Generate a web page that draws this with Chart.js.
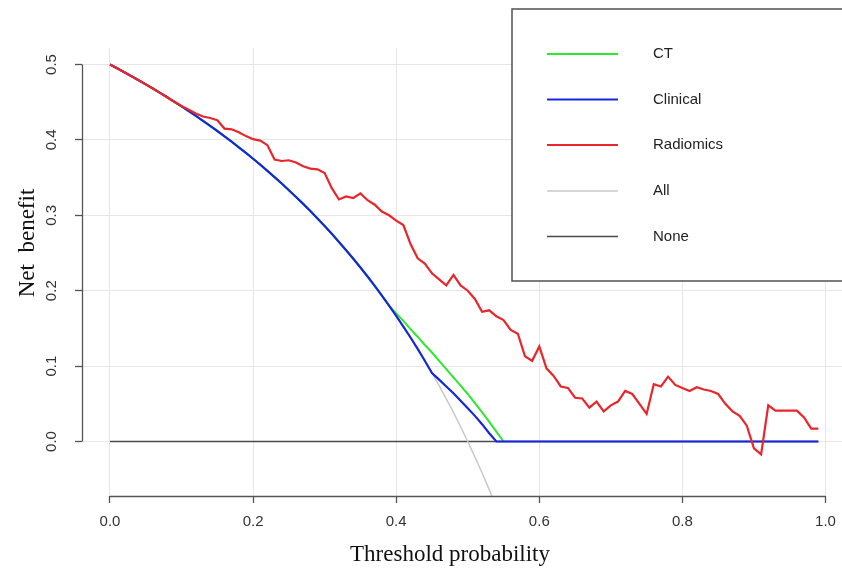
<!DOCTYPE html>
<html>
<head>
<meta charset="utf-8">
<script src="https://cdn.jsdelivr.net/npm/chart.js@4/dist/chart.umd.min.js"></script>
<style>
  html, body { margin: 0; padding: 0; background: #ffffff; }
  #wrap { width: 842px; height: 569px; position: relative; background: #ffffff; }
</style>
</head>
<body>
<div id="wrap"><canvas id="c" width="842" height="569"></canvas></div>
<script>
// ---------------- data ----------------
const thresholds = [
  0.00,0.01,0.02,0.03,0.04,0.05,0.06,0.07,0.08,0.09,
  0.10,0.11,0.12,0.13,0.14,0.15,0.16,0.17,0.18,0.19,
  0.20,0.21,0.22,0.23,0.24,0.25,0.26,0.27,0.28,0.29,
  0.30,0.31,0.32,0.33,0.34,0.35,0.36,0.37,0.38,0.39,
  0.40,0.41,0.42,0.43,0.44,0.45,0.46,0.47,0.48,0.49,
  0.50,0.51,0.52,0.53,0.54,0.55,0.56,0.57,0.58,0.59,
  0.60,0.61,0.62,0.63,0.64,0.65,0.66,0.67,0.68,0.69,
  0.70,0.71,0.72,0.73,0.74,0.75,0.76,0.77,0.78,0.79,
  0.80,0.81,0.82,0.83,0.84,0.85,0.86,0.87,0.88,0.89,
  0.90,0.91,0.92,0.93,0.94,0.95,0.96,0.97,0.98,0.99
];

// CT lies under the Clinical line once both reach 0, so it is only listed up to 0.55
const ctNB = [
  0.5,0.495,0.4898,0.4845,0.4792,0.4737,0.4681,0.4624,0.4565,0.4505,
  0.4444,0.4382,0.4318,0.4253,0.4186,0.4118,0.4048,0.3976,0.3902,0.3827,
  0.375,0.3671,0.359,0.3506,0.3421,0.3333,0.3243,0.3151,0.3056,0.2958,
  0.2857,0.2754,0.2647,0.2537,0.2424,0.2308,0.2188,0.2063,0.1935,0.1803,
  0.170,0.160,0.149,0.139,0.128,0.118,0.107,0.096,0.085,0.074,
  0.063,0.051,0.039,0.026,0.013,0,null,null,null,null,
  null,null,null,null,null,null,null,null,null,null,
  null,null,null,null,null,null,null,null,null,null,
  null,null,null,null,null,null,null,null,null,null,
  null,null,null,null,null,null,null,null,null,null
];

const clinicalNB = [
  0.5,0.495,0.4898,0.4845,0.4792,0.4737,0.4681,0.4624,0.4565,0.4505,
  0.4444,0.4382,0.4318,0.4253,0.4186,0.4118,0.4048,0.3976,0.3902,0.3827,
  0.375,0.3671,0.359,0.3506,0.3421,0.3333,0.3243,0.3151,0.3056,0.2958,
  0.2857,0.2754,0.2647,0.2537,0.2424,0.2308,0.2188,0.2063,0.1935,0.1803,
  0.1667,0.1525,0.1379,0.1228,0.1071,0.0909,0.082,0.073,0.064,0.054,
  0.044,0.034,0.023,0.011,0,0,0,0,0,0,
  0,0,0,0,0,0,0,0,0,0,
  0,0,0,0,0,0,0,0,0,0,
  0,0,0,0,0,0,0,0,0,0,
  0,0,0,0,0,0,0,0,0,0
];

const radiomicsNB = [
  0.5,0.495,0.4898,0.4845,0.4792,0.4737,0.4681,0.4624,0.4565,0.4506,
  0.445,0.440,0.435,0.431,0.429,0.426,0.415,0.414,0.410,0.405,
  0.401,0.399,0.393,0.374,0.372,0.373,0.370,0.365,0.362,0.361,
  0.356,0.336,0.321,0.325,0.323,0.329,0.320,0.314,0.305,0.300,
  0.293,0.287,0.262,0.243,0.236,0.223,0.215,0.207,0.221,0.207,
  0.200,0.189,0.172,0.174,0.166,0.161,0.148,0.143,0.113,0.107,
  0.126,0.097,0.087,0.073,0.071,0.058,0.057,0.045,0.053,0.040,
  0.048,0.053,0.067,0.063,0.050,0.0365,0.076,0.073,0.086,0.075,
  0.071,0.067,0.072,0.069,0.067,0.063,0.050,0.040,0.034,0.021,
  -0.009,-0.017,0.048,0.041,0.041,0.041,0.041,0.032,0.017,0.017
];

const allNB = [
  0.5,0.495,0.4898,0.4845,0.4792,0.4737,0.4681,0.4624,0.4565,0.4505,
  0.4444,0.4382,0.4318,0.4253,0.4186,0.4118,0.4048,0.3976,0.3902,0.3827,
  0.375,0.3671,0.359,0.3506,0.3421,0.3333,0.3243,0.3151,0.3056,0.2958,
  0.2857,0.2754,0.2647,0.2537,0.2424,0.2308,0.2188,0.2063,0.1935,0.1803,
  0.1667,0.1525,0.1379,0.1228,0.1071,0.0909,0.0741,0.0566,0.0385,0.0196,
  0,-0.0204,-0.0417,-0.0638,-0.087,-0.1111,null,null,null,null,
  null,null,null,null,null,null,null,null,null,null,
  null,null,null,null,null,null,null,null,null,null,
  null,null,null,null,null,null,null,null,null,null,
  null,null,null,null,null,null,null,null,null,null
];

const noneNB = [
  0,0,0,0,0,0,0,0,0,0, 0,0,0,0,0,0,0,0,0,0,
  0,0,0,0,0,0,0,0,0,0, 0,0,0,0,0,0,0,0,0,0,
  0,0,0,0,0,0,0,0,0,0, 0,0,0,0,0,0,0,0,0,0,
  0,0,0,0,0,0,0,0,0,0, 0,0,0,0,0,0,0,0,0,0,
  0,0,0,0,0,0,0,0,0,0, 0,0,0,0,0,0,0,0,0,0
];

const seriesNames = ["CT", "Clinical", "Radiomics", "All", "None"];
const xTickValues = [0, 0.2, 0.4, 0.6, 0.8, 1.0];
const xTickLabels = ["0.0", "0.2", "0.4", "0.6", "0.8", "1.0"];
const yTickValues = [0, 0.1, 0.2, 0.3, 0.4, 0.5];
const yTickLabels = ["0.0", "0.1", "0.2", "0.3", "0.4", "0.5"];
const xTitle = "Threshold probability";
const yTitle = "Net  benefit";

// ---------------- styling ----------------
const colors = ["#2ee82e", "#1626dc", "#e8262b", "#c9c9c9", "#4a4a4a"];
const widths = [2, 2.2, 2.2, 1.5, 1.5];
const drawOrder = [3, 2, 1, 4, 5]; // lower = drawn on top
const allSeries = [ctNB, clinicalNB, radiomicsNB, allNB, noneNB];

const datasets = allSeries.map((vals, i) => ({
  label: seriesNames[i],
  data: thresholds.map((t, k) => ({ x: t, y: vals[k] })),
  borderColor: colors[i],
  backgroundColor: colors[i],
  borderWidth: widths[i],
  pointRadius: 0,
  tension: 0,
  fill: false,
  spanGaps: false,
  order: drawOrder[i]
}));

const SANS = "'Liberation Sans', Arial, sans-serif";
const SERIF = "'Liberation Serif', 'Times New Roman', serif";

const rPlot = {
  id: 'rPlot',
  beforeDatasetsDraw(chart) {
    // legend box (white fill covers the grid)
    const ctx = chart.ctx;
    ctx.save();
    ctx.fillStyle = '#ffffff';
    ctx.fillRect(512, 9, 340, 272);
    ctx.strokeStyle = '#505050';
    ctx.lineWidth = 1.5;
    ctx.strokeRect(512, 9, 340, 272);
    const rows = [54, 99.5, 145, 191, 236.5];
    chart.data.datasets.forEach((ds, i) => {
      const y = rows[i];
      ctx.strokeStyle = ds.borderColor;
      ctx.lineWidth = ds.borderWidth;
      ctx.beginPath();
      ctx.moveTo(547, y);
      ctx.lineTo(618, y);
      ctx.stroke();
      ctx.fillStyle = '#222222';
      ctx.font = '15px ' + SANS;
      ctx.textAlign = 'left';
      ctx.textBaseline = 'middle';
      ctx.fillText(ds.label, 653, y);
    });
    ctx.restore();
  },
  afterDraw(chart) {
    const ctx = chart.ctx;
    const xs = chart.scales.x, ys = chart.scales.y;
    const area = chart.chartArea;
    ctx.save();
    ctx.strokeStyle = '#555555';
    ctx.lineWidth = 1.3;
    // y axis line
    const ax = Math.round(area.left) + 0.5;
    ctx.beginPath();
    ctx.moveTo(ax, ys.getPixelForValue(yTickValues[0]));
    ctx.lineTo(ax, ys.getPixelForValue(yTickValues[yTickValues.length - 1]));
    ctx.stroke();
    // x axis line
    const ay = Math.round(area.bottom) + 0.5;
    ctx.beginPath();
    ctx.moveTo(xs.getPixelForValue(xTickValues[0]), ay);
    ctx.lineTo(xs.getPixelForValue(xTickValues[xTickValues.length - 1]), ay);
    ctx.stroke();
    // tick labels
    ctx.fillStyle = '#333333';
    ctx.font = '15px ' + SANS;
    ctx.textAlign = 'center';
    ctx.textBaseline = 'middle';
    xTickValues.forEach((v, i) => {
      ctx.fillText(xTickLabels[i], xs.getPixelForValue(v), area.bottom + 26);
    });
    yTickValues.forEach((v, i) => {
      ctx.save();
      ctx.translate(area.left - 30, ys.getPixelForValue(v));
      ctx.rotate(-Math.PI / 2);
      ctx.fillText(yTickLabels[i], 0, 0);
      ctx.restore();
    });
    // axis titles
    ctx.fillStyle = '#111111';
    ctx.font = '23px ' + SERIF;
    ctx.fillText(xTitle, 450, 555);
    ctx.save();
    ctx.translate(28, 243);
    ctx.rotate(-Math.PI / 2);
    ctx.fillText(yTitle, 0, 0);
    ctx.restore();
    ctx.restore();
  }
};

new Chart(document.getElementById('c'), {
  type: 'line',
  data: { datasets },
  options: {
    responsive: false,
    animation: false,
    devicePixelRatio: 1,
    layout: { padding: { left: 0, right: 0, top: 48, bottom: 0 } },
    plugins: { legend: { display: false }, tooltip: { enabled: false } },
    scales: {
      x: {
        type: 'linear',
        min: -0.03913,
        max: 1.02306,
        afterBuildTicks: (s) => { s.ticks = xTickValues.map(v => ({ value: v })); },
        afterFit: (s) => { s.height = 73; },
        ticks: { display: false },
        border: { display: false },
        grid: { color: '#e6e6e6', lineWidth: 1, drawTicks: true, tickLength: 7, tickColor: '#555555', tickWidth: 1.3 }
      },
      y: {
        type: 'linear',
        min: -0.07228,
        max: 0.52188,
        afterBuildTicks: (s) => { s.ticks = yTickValues.map(v => ({ value: v })); },
        afterFit: (s) => { s.width = 82; },
        ticks: { display: false },
        border: { display: false },
        grid: { color: '#e6e6e6', lineWidth: 1, drawTicks: true, tickLength: 7, tickColor: '#555555', tickWidth: 1.3 }
      }
    }
  },
  plugins: [rPlot]
});
</script>
</body>
</html>
